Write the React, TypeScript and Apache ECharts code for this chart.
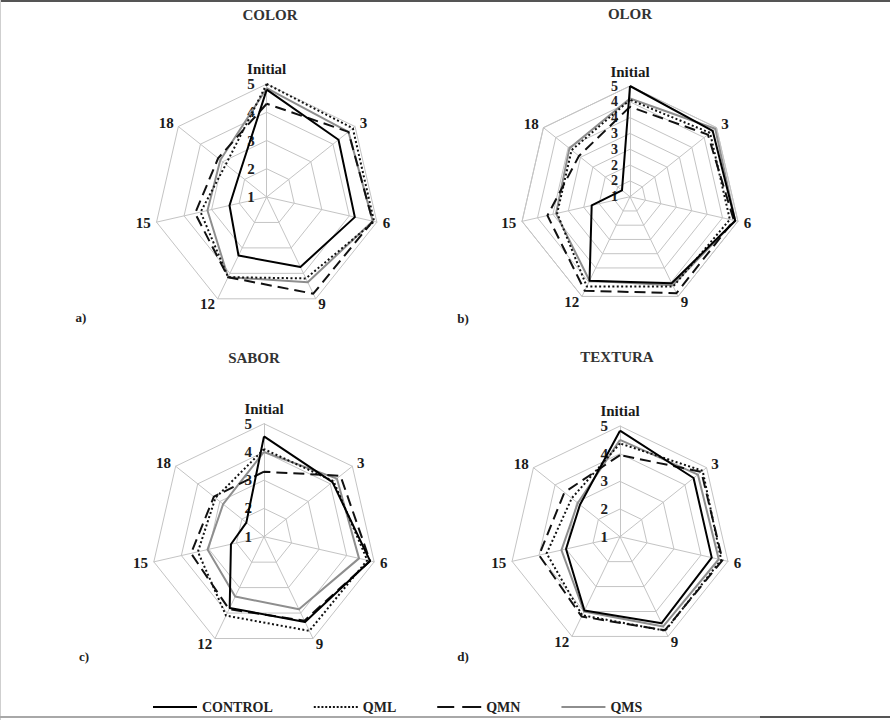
import React, { useEffect, useRef } from "react";
import * as echarts from "echarts";

const FONT = '"Liberation Serif", "Times New Roman", serif';

// Axis categories (storage days), in reading order clockwise from top
const AXES = ["Initial", "3", "6", "9", "12", "15", "18"];
const TREATMENTS = ["CONTROL", "QML", "QMN", "QMS"];
const PANEL_TITLES = ["COLOR", "OLOR", "SABOR", "TEXTURA"];
const PANEL_LETTERS = ["a)", "b)", "c)", "d)"];
const SPLITS = [4, 7, 4, 4];

// Values: Initial, 3, 6, 9, 12, 15, 18
const colorControl = [4.8, 4.25, 4.2, 3.75, 3.3, 2.35, 2.25];
const colorQML = [5.0, 4.9, 4.9, 4.2, 4.15, 3.4, 2.85];
const colorQMN = [4.3, 4.7, 4.85, 4.8, 4.15, 3.6, 3.2];
const colorQMS = [4.85, 4.7, 4.85, 4.35, 4.15, 3.15, 3.1];

const olorControl = [5.0, 4.82, 4.9, 4.47, 4.37, 2.42, 1.37];
const olorQML = [4.5, 4.7, 4.7, 4.6, 4.6, 3.7, 3.7];
const olorQMN = [4.25, 4.6, 4.85, 4.87, 4.77, 4.06, 3.36];
const olorQMS = [4.55, 4.94, 4.9, 4.55, 4.37, 3.74, 3.8];

const saborControl = [4.55, 4.1, 4.85, 4.35, 3.8, 2.2, 1.8];
const saborQML = [4.1, 4.15, 4.75, 4.7, 4.1, 3.4, 3.2];
const saborQMN = [3.3, 4.46, 4.85, 4.3, 3.85, 3.65, 3.27];
const saborQMS = [4.0, 4.3, 4.45, 3.85, 3.35, 3.05, 2.85];

const texturaControl = [4.83, 4.4, 4.4, 4.47, 3.96, 3.0, 2.85];
const texturaQML = [4.37, 4.82, 4.75, 4.77, 4.15, 3.72, 3.23];
const texturaQMN = [3.95, 4.76, 4.8, 4.75, 4.2, 4.0, 3.57];
const texturaQMS = [4.5, 4.6, 4.66, 4.6, 4.0, 3.17, 2.95];

const PANEL_DATA = [
  [colorControl, colorQML, colorQMN, colorQMS],
  [olorControl, olorQML, olorQMN, olorQMS],
  [saborControl, saborQML, saborQMN, saborQMS],
  [texturaControl, texturaQML, texturaQMN, texturaQMS],
];

// layout
const CENTERS = [
  [266.7, 197],
  [630, 196.7],
  [264, 536.7],
  [620, 536.7],
];
const RADII = [113, 110.7, 113, 110.7];
const LABEL_SIZES = [15, 14, 15, 15];
const TITLE_POS = [
  [270, 15],
  [630, 14],
  [254, 358],
  [617, 357],
];
const LETTER_POS = [
  [81, 317],
  [463, 318],
  [84, 656],
  [463, 656],
];

// ECharts radar runs counter-clockwise: reorder to Initial, 18, 15, 12, 9, 6, 3
const ORDER = [0, 6, 5, 4, 3, 2, 1];

const STYLES: Record<string, any> = {
  CONTROL: { color: "#000000", type: "solid", width: 2 },
  QML: { color: "#111111", type: [2, 2.4], width: 2 },
  QMN: { color: "#111111", type: [11, 6], width: 2 },
  QMS: { color: "#8e8e8e", type: "solid", width: 2 },
};

function dots(): string {
  let s = "path://";
  const n = 12;
  for (let i = 0; i < n; i++) {
    const x = (i * 42) / (n - 1);
    s += `M${x.toFixed(2)} 0H${(x + 2).toFixed(2)}V2H${x.toFixed(2)}Z`;
  }
  return s;
}

const ICONS: Record<string, string> = {
  CONTROL: "path://M0 0H44V2H0Z",
  QML: dots(),
  QMN: "path://M0 0H17V2H0Z M25 0H44V2H25Z",
  QMS: "path://M0 0H44V2H0Z",
};

function labelStyle(size: number) {
  return {
    fontSize: size,
    fontWeight: "bold",
    fontFamily: FONT,
    color: "#222",
    margin: 12,
    formatter: (v: number) => String(Math.round(v)),
  };
}

export default function App() {
  const ref = useRef<HTMLDivElement>(null);

  useEffect(() => {
    if (!ref.current) return;
    const chart = echarts.init(ref.current, undefined, { renderer: "svg" });

    const radar = CENTERS.map((c, i) => ({
      center: c,
      radius: RADII[i],
      startAngle: 90,
      splitNumber: SPLITS[i],
      shape: "polygon",
      nameGap: 6,
      axisName: {
        color: "#1a1a1a",
        fontSize: 15,
        fontWeight: "bold",
        fontFamily: FONT,
      },
      indicator: ORDER.map((k, j) => {
        const ind: any = { name: AXES[k], min: 1, max: 5 };
        if (j === 0) ind.axisLabel = { show: true, ...labelStyle(LABEL_SIZES[i]) };
        return ind;
      }),
      axisLine: { lineStyle: { color: "#c4c4c4", width: 1 } },
      splitLine: { lineStyle: { color: "#c4c4c4", width: 1 } },
      splitArea: { show: false },
      axisTick: { show: false },
      axisLabel: { show: false, ...labelStyle(LABEL_SIZES[i]) },
    }));

    const series: any[] = [];
    // draw order: QMS, QMN, QML, CONTROL (control on top)
    const drawOrder = [3, 2, 1, 0];
    PANEL_DATA.forEach((panel, pi) => {
      drawOrder.forEach((ti) => {
        const name = TREATMENTS[ti];
        const st = STYLES[name];
        series.push({
          type: "radar",
          name,
          radarIndex: pi,
          symbol: "none",
          silent: true,
          itemStyle: { color: st.color },
          lineStyle: { color: st.color, width: st.width, type: st.type },
          data: [{ name, value: ORDER.map((k) => panel[ti][k]) }],
        });
      });
    });

    const graphic: any[] = [];
    PANEL_TITLES.forEach((t, i) => {
      graphic.push({
        type: "text",
        x: TITLE_POS[i][0],
        y: TITLE_POS[i][1],
        style: {
          text: t,
          fontSize: 15,
          fontWeight: "bold",
          fontFamily: FONT,
          fill: "#333",
          align: "center",
          verticalAlign: "middle",
        },
      });
    });
    PANEL_LETTERS.forEach((t, i) => {
      graphic.push({
        type: "text",
        x: LETTER_POS[i][0],
        y: LETTER_POS[i][1],
        style: {
          text: t,
          fontSize: 13,
          fontWeight: "bold",
          fontFamily: FONT,
          fill: "#222",
          align: "center",
          verticalAlign: "middle",
        },
      });
    });
    // frame lines
    graphic.push(
      { type: "line", shape: { x1: 0, y1: 1, x2: 890, y2: 1 }, style: { stroke: "#555", lineWidth: 2 } },
      { type: "line", shape: { x1: 0.5, y1: 0, x2: 0.5, y2: 720 }, style: { stroke: "#cfcfcf", lineWidth: 1 } },
      { type: "line", shape: { x1: 0, y1: 717, x2: 760, y2: 717 }, style: { stroke: "#a8a8a8", lineWidth: 2 } },
      { type: "line", shape: { x1: 760, y1: 717, x2: 890, y2: 717 }, style: { stroke: "#555", lineWidth: 2 } }
    );

    chart.setOption({
      animation: false,
      backgroundColor: "#ffffff",
      radar,
      series,
      graphic,
      legend: {
        left: 153,
        top: 700,
        padding: 0,
        itemWidth: 44,
        itemHeight: 2,
        itemGap: 41,
        selectedMode: false,
        textStyle: {
          fontSize: 14,
          fontWeight: "bold",
          fontFamily: FONT,
          color: "#222",
        },
        data: TREATMENTS.map((name) => ({
          name,
          icon: ICONS[name],
          itemStyle: { color: STYLES[name].color, borderWidth: 0 },
        })),
      },
    });

    return () => {
      chart.dispose();
    };
  }, []);

  return (
    <div
      ref={ref}
      style={{
        position: "absolute",
        left: 0,
        top: 0,
        width: 890,
        height: 720,
        background: "#fff",
      }}
    />
  );
}
